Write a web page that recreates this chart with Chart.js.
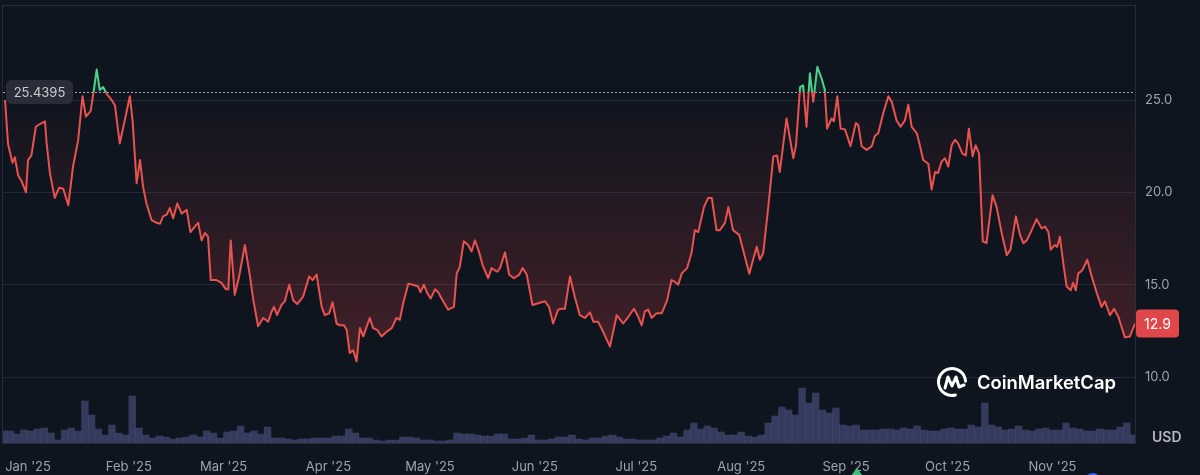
<!DOCTYPE html>
<html>
<head>
<meta charset="utf-8">
<script src="https://cdn.jsdelivr.net/npm/chart.js@4.4.1/dist/chart.umd.min.js"></script>
<style>
  html, body { margin: 0; padding: 0; background: #0f151f; }
  #wrap { position: relative; width: 1200px; height: 475px; }
</style>
</head>
<body>
<div id="wrap"><canvas id="chart" width="1200" height="475"></canvas></div>
<script>
// days counted from 1 Jan 2025
const priceDays = [
  -5.6, -4.7, -3.4, -2.7, -1.7, -0.7, 0.6, 1.2, 2.2, 3.5, 4.7, 6.2, 6.7, 7.7, 9.1, 10.4, 11.6, 13.1, 14.5, 16.0,
  17.3, 18.3, 19.7, 20.5, 21.5, 22.4, 23.4, 24.4, 25.9, 26.9, 28.3, 29.8, 31.3, 32.1, 33.3, 34.3, 35.2, 36.2, 37.7, 39.2,
  40.2, 41.1, 42.2, 43.1, 44.1, 45.3, 46.6, 48.1, 49.2, 50.5, 51.5, 52.5, 53.5, 54.4, 55.2, 56.9, 58.4, 59.7, 60.4, 61.1,
  62.3, 63.6, 65.3, 66.8, 67.8, 69.2, 70.7, 72.2, 73.2, 73.9, 74.8, 76.1, 77.1, 78.4, 79.6, 80.8, 82.5, 84.3, 85.3, 86.5,
  88.0, 88.9, 90.2, 91.2, 92.4, 93.4, 94.6, 95.4, 96.3, 97.3, 98.3, 99.3, 100.3, 102.2, 103.2, 104.4, 105.7, 107.2, 108.7, 110.1,
  111.1, 112.1, 113.6, 115.0, 116.5, 117.2, 118.2, 119.2, 120.2, 121.5, 122.4, 123.9, 125.4, 127.1, 127.9, 128.8, 130.0, 131.3, 132.3, 133.3,
  134.3, 135.6, 137.2, 138.2, 139.9, 140.7, 142.2, 143.4, 144.8, 146.4, 147.4, 148.6, 150.3, 152.0, 154.0, 155.2, 156.4, 157.9, 158.9, 159.9,
  161.4, 162.8, 164.3, 165.8, 167.3, 168.3, 169.7, 171.2, 173.2, 175.2, 177.1, 178.6, 180.3, 181.6, 182.6, 183.5, 184.5, 185.5, 187.0, 188.5,
  190.1, 191.4, 192.4, 193.4, 194.4, 196.0, 197.3, 198.3, 199.3, 201.0, 202.2, 203.3, 204.7, 205.7, 207.2, 208.2, 209.6, 211.4, 213.1, 214.4,
  215.5, 216.6, 217.5, 218.5, 220.0, 221.5, 222.6, 223.4, 225.4, 227.4, 228.2, 229.4, 230.3, 231.3, 232.3, 233.3, 234.5, 235.8, 236.7, 237.4,
  238.7, 239.4, 240.4, 241.4, 242.7, 244.3, 245.9, 246.6, 247.6, 249.1, 250.6, 251.5, 252.5, 254.0, 255.5, 256.5, 257.9, 259.1, 260.4, 261.4,
  262.4, 263.9, 264.8, 265.8, 267.3, 268.3, 269.3, 270.2, 271.2, 272.2, 273.2, 274.2, 275.2, 276.1, 277.4, 278.4, 279.3, 280.4, 281.3, 282.3,
  283.4, 284.5, 286.3, 287.5, 289.0, 290.5, 291.6, 293.2, 294.4, 295.4, 296.4, 297.6, 299.3, 300.8, 301.8, 302.8, 303.5, 304.7, 305.4, 306.2,
  307.2, 308.2, 309.4, 310.1, 310.9, 311.6, 312.9, 314.3, 315.6, 317.1, 318.5, 319.5, 321.0, 322.2, 323.5, 325.4, 326.9, 328.4,
];
const priceValues = [
  25.0, 22.6, 21.6, 21.9, 20.9, 20.6, 20.0, 21.75, 22.0, 23.55, 23.7, 23.85, 22.65, 21.0, 19.7, 20.25, 20.2, 19.3, 21.4, 22.8,
  25.2, 24.1, 24.4, 25.35, 26.65, 25.55, 25.7, 25.35, 25.0, 24.7, 22.65, 23.9, 25.2, 23.9, 20.5, 21.75, 20.3, 19.4, 18.5, 18.35,
  18.3, 18.7, 18.8, 19.15, 18.6, 19.4, 18.85, 19.05, 17.85, 18.15, 18.35, 17.4, 17.8, 17.6, 15.25, 15.25, 15.1, 14.75, 14.75, 17.4,
  14.45, 15.45, 17.15, 15.45, 14.15, 12.75, 13.2, 13.0, 13.55, 13.8, 13.35, 13.9, 14.1, 15.0, 14.15, 13.95, 14.35, 15.45, 15.25, 15.55,
  13.8, 13.35, 13.45, 14.05, 12.9, 12.8, 12.8, 12.55, 11.3, 11.45, 10.85, 12.65, 12.2, 13.2, 12.65, 12.55, 12.2, 12.45, 12.65, 13.2,
  13.1, 14.0, 15.05, 15.0, 14.9, 14.6, 15.0, 14.55, 14.25, 14.75, 14.6, 14.1, 13.65, 13.8, 15.6, 15.95, 17.35, 17.15, 16.8, 17.4,
  16.9, 16.05, 15.35, 15.9, 15.7, 15.9, 16.75, 15.55, 15.35, 15.55, 15.9, 15.55, 13.9, 14.0, 14.1, 13.8, 12.9, 13.65, 13.7, 13.7,
  15.45, 14.35, 13.35, 13.2, 13.5, 13.0, 13.0, 12.45, 11.65, 13.35, 12.9, 13.25, 13.7, 13.25, 12.8, 13.55, 13.65, 13.2, 13.45, 13.45,
  14.15, 15.25, 15.15, 15.0, 15.6, 15.9, 16.7, 17.95, 17.85, 19.2, 19.7, 19.7, 17.95, 17.95, 18.35, 19.2, 17.95, 17.7, 16.5, 15.6,
  16.35, 17.05, 16.35, 16.7, 19.2, 21.95, 22.0, 21.1, 24.0, 21.85, 22.55, 25.7, 25.8, 23.55, 26.45, 24.9, 26.8, 26.15, 25.55, 23.45,
  24.0, 23.85, 25.2, 23.45, 23.4, 22.5, 23.75, 23.65, 22.5, 22.3, 22.5, 23.05, 23.2, 24.3, 25.2, 24.9, 23.9, 23.55, 23.9, 24.75,
  23.55, 23.2, 22.55, 21.75, 21.55, 20.15, 21.1, 21.05, 21.65, 21.85, 21.4, 22.55, 22.85, 22.65, 22.1, 22.0, 23.45, 21.95, 22.55, 22.1,
  17.35, 17.25, 19.85, 19.2, 17.8, 16.6, 16.9, 18.7, 17.7, 17.25, 17.4, 17.85, 18.55, 18.05, 18.15, 17.85, 16.9, 17.15, 17.05, 17.6,
  16.15, 14.9, 14.7, 15.1, 14.7, 15.6, 15.8, 16.35, 15.45, 14.55, 13.8, 14.1, 13.35, 13.7, 13.25, 12.15, 12.2, 12.9,
];
// relative traded volume, one bar per two days
const volumeValues = [
  12, 12, 9, 13, 12, 14, 15, 10, 3, 13,
  15, 12, 42, 28, 14, 8, 18, 10, 8, 47,
  15, 8, 5, 7, 6, 4, 5, 6, 8, 6,
  12, 10, 5, 11, 12, 17, 10, 12, 9, 16,
  5, 5, 4, 3, 4, 4, 5, 5, 5, 7,
  7, 14, 10, 5, 5, 3, 2, 3, 3, 6,
  6, 5, 3, 3, 2, 2, 3, 10, 9, 9,
  8, 7, 7, 9, 9, 4, 4, 5, 8, 3,
  3, 4, 6, 6, 8, 4, 3, 5, 5, 7,
  8, 6, 4, 4, 3, 3, 3, 5, 7, 10,
  6, 13, 20, 14, 17, 15, 11, 8, 8, 11,
  7, 6, 8, 20, 27, 36, 33, 28, 55, 40,
  50, 33, 30, 35, 18, 17, 18, 13, 13, 13,
  14, 14, 13, 15, 14, 17, 13, 12, 12, 14,
  15, 14, 14, 18, 16, 40, 18, 16, 13, 14,
  17, 13, 12, 14, 15, 13, 13, 20, 15, 14,
  12, 12, 14, 13, 13, 16, 20, 8,
];
const VOLUME_FIRST_DAY = -6;
const VOLUME_STEP_DAYS = 2;
const volumeDays = volumeValues.map((_, i) => VOLUME_FIRST_DAY + i * VOLUME_STEP_DAYS);

const monthDays = [0, 31, 59, 90, 120, 151, 181, 212, 243, 273, 304];
const monthLabels = ["Jan '25", "Feb '25", "Mar '25", "Apr '25", "May '25", "Jun '25", "Jul '25", "Aug '25", "Sep '25", "Oct '25", "Nov '25"];
const priceTicks = [10, 15, 20, 25];
const eventDays = [246.2, 315.9];
const eventColors = ['#3fbf7f', '#3861fb'];

const BASE_PRICE = 25.4395;
const LAST_PRICE = 12.9;

const RED = '#e9524f';
const GREEN = '#4fcf8c';
const FONT = 'Inter, "Noto Sans", sans-serif';

function splitGradient(chart, topColor, bottomColor) {
  const { ctx, chartArea, scales } = chart;
  if (!chartArea || !scales.y) return bottomColor;
  const yb = scales.y.getPixelForValue(BASE_PRICE);
  const h = chartArea.bottom - chartArea.top;
  const t = Math.min(1, Math.max(0, (yb - chartArea.top) / h));
  const g = ctx.createLinearGradient(0, chartArea.top, 0, chartArea.bottom);
  g.addColorStop(0, topColor);
  g.addColorStop(t, topColor);
  g.addColorStop(t, bottomColor);
  g.addColorStop(1, bottomColor);
  return g;
}

function areaFill(context) {
  const chart = context.chart;
  const { ctx, chartArea, scales } = chart;
  if (!chartArea || !scales.y) return { target: { value: BASE_PRICE }, above: 'rgba(79,207,140,0.2)', below: 'rgba(233,82,79,0.12)' };
  const yb = scales.y.getPixelForValue(BASE_PRICE);
  const red = ctx.createLinearGradient(0, yb, 0, chartArea.bottom);
  red.addColorStop(0, 'rgba(233,70,72,0.0)');
  red.addColorStop(1, 'rgba(233,70,72,0.32)');
  const green = ctx.createLinearGradient(0, chartArea.top, 0, yb);
  green.addColorStop(0, 'rgba(79,207,140,0.35)');
  green.addColorStop(1, 'rgba(79,207,140,0.08)');
  return { target: { value: BASE_PRICE }, above: green, below: red };
}

function roundRect(ctx, x, y, w, h, r) {
  ctx.beginPath();
  ctx.moveTo(x + r, y);
  ctx.arcTo(x + w, y, x + w, y + h, r);
  ctx.arcTo(x + w, y + h, x, y + h, r);
  ctx.arcTo(x, y + h, x, y, r);
  ctx.arcTo(x, y, x + w, y, r);
  ctx.closePath();
}

const baselinePlugin = {
  id: 'baseline',
  beforeDatasetsDraw(chart) {
    const { ctx, chartArea, scales } = chart;
    const y = Math.round(scales.y.getPixelForValue(BASE_PRICE)) + 0.5;
    ctx.save();
    ctx.strokeStyle = 'rgba(215,220,228,0.75)';
    ctx.lineWidth = 1;
    ctx.setLineDash([2, 2]);
    ctx.beginPath();
    ctx.moveTo(chartArea.left, y);
    ctx.lineTo(chartArea.right, y);
    ctx.stroke();
    ctx.restore();
  },
};

const overlayPlugin = {
  id: 'overlay',
  afterDraw(chart) {
    const { ctx, chartArea, scales } = chart;
    ctx.save();

    // frame
    ctx.strokeStyle = '#262d39';
    ctx.lineWidth = 1;
    ctx.strokeRect(chartArea.left - 0.5, chartArea.top - 0.5, chartArea.right - chartArea.left + 1, chartArea.bottom - chartArea.top + 1);

    // base price label
    const yb = scales.y.getPixelForValue(BASE_PRICE);
    roundRect(ctx, chartArea.left + 3, yb - 12, 67, 24, 6);
    ctx.fillStyle = 'rgba(44,48,59,0.92)';
    ctx.fill();
    ctx.fillStyle = '#c9ccd3';
    ctx.font = '13px ' + FONT;
    ctx.textAlign = 'center';
    ctx.textBaseline = 'middle';
    ctx.fillText(BASE_PRICE.toFixed(4), chartArea.left + 36.5, yb + 1);

    // last price tag
    const yl = scales.y.getPixelForValue(LAST_PRICE);
    roundRect(ctx, chartArea.right + 1, yl - 14, 43, 28, 4);
    ctx.fillStyle = '#e0474a';
    ctx.fill();
    ctx.fillStyle = '#ffffff';
    ctx.font = '14px ' + FONT;
    ctx.fillText(LAST_PRICE.toFixed(1), chartArea.right + 22.5, yl + 1);

    // currency
    ctx.fillStyle = '#b4b9c3';
    ctx.font = '600 14px ' + FONT;
    ctx.textAlign = 'left';
    ctx.fillText('USD', chartArea.right + 17, chartArea.bottom - 5);

    // watermark
    const lx = 952, ly = 382;
    ctx.strokeStyle = '#ffffff';
    ctx.lineWidth = 3;
    ctx.lineCap = 'round';
    ctx.lineJoin = 'round';
    ctx.beginPath();
    ctx.arc(lx, ly, 13.5, 0.42 * Math.PI, 1.98 * Math.PI);
    ctx.stroke();
    ctx.beginPath();
    ctx.moveTo(lx - 7, ly + 6);
    ctx.lineTo(lx - 4, ly - 5);
    ctx.lineTo(lx, ly + 4);
    ctx.lineTo(lx + 4, ly - 5);
    ctx.lineTo(lx + 7, ly + 5);
    ctx.lineTo(lx + 12, ly + 3);
    ctx.stroke();
    const label = 'CoinMarketCap';
    let size = 20;
    ctx.font = '600 ' + size + 'px ' + FONT;
    size = size * 139 / ctx.measureText(label).width;
    ctx.font = '600 ' + size.toFixed(2) + 'px ' + FONT;
    ctx.fillStyle = '#ffffff';
    ctx.textBaseline = 'middle';
    ctx.fillText(label, 977, ly + 1);

    // event markers under the axis
    eventDays.forEach((d, i) => {
      const x = scales.x.getPixelForValue(d);
      ctx.fillStyle = eventColors[i];
      ctx.beginPath();
      if (i === 0) {
        ctx.moveTo(x, 468);
        ctx.lineTo(x + 6, 476);
        ctx.lineTo(x - 6, 476);
        ctx.closePath();
      } else {
        ctx.arc(x, 481, 8, 0, Math.PI * 2);
      }
      ctx.fill();
    });

    ctx.restore();
  },
};

new Chart(document.getElementById('chart'), {
  type: 'line',
  data: {
    datasets: [
      {
        type: 'line',
        label: 'Price',
        data: priceDays.map((d, i) => ({ x: d, y: priceValues[i] })),
        yAxisID: 'y',
        borderWidth: 2,
        borderColor: (c) => splitGradient(c.chart, GREEN, RED),
        borderJoinStyle: 'round',
        pointRadius: 0,
        tension: 0,
        fill: areaFill,
        order: 1,
      },
      {
        type: 'bar',
        label: 'Volume',
        data: volumeDays.map((d, i) => ({ x: d, y: volumeValues[i] })),
        yAxisID: 'vol',
        backgroundColor: 'rgba(76,82,130,0.62)',
        borderWidth: 0,
        barPercentage: 1,
        categoryPercentage: 1,
        order: 2,
      },
    ],
  },
  options: {
    responsive: false,
    animation: false,
    devicePixelRatio: 1,
    layout: { padding: { left: 3, top: 6, right: 0, bottom: 0 } },
    plugins: { legend: { display: false }, tooltip: { enabled: false } },
    scales: {
      x: {
        type: 'linear',
        min: -6.2,
        max: 328.4,
        offset: false,
        grid: { display: false },
        border: { display: false },
        afterBuildTicks(scale) {
          // the first label is nudged right so it stays inside the canvas, as in the source
          scale.ticks = monthDays.map((v, i) => ({ value: i === 0 ? v + 1.2 : v }));
        },
        afterFit(scale) {
          scale.height = 32;
          scale.paddingLeft = 0;
          scale.paddingRight = 0;
        },
        ticks: {
          autoSkip: false,
          maxRotation: 0,
          padding: 8,
          color: '#9ea3ad',
          font: { family: FONT, size: 13 },
          callback: (v, i) => monthLabels[i],
        },
      },
      y: {
        position: 'right',
        min: 6.43,
        max: 30.09,
        grid: { color: '#232834', drawTicks: false },
        border: { display: false },
        afterBuildTicks(scale) {
          scale.ticks = priceTicks.map((v) => ({ value: v }));
        },
        afterFit(scale) {
          scale.width = 65;
          scale.paddingTop = 0;
          scale.paddingBottom = 0;
        },
        ticks: {
          padding: 10,
          color: '#9ea3ad',
          font: { family: FONT, size: 13 },
          callback: (v) => Number(v).toFixed(1),
        },
      },
      vol: {
        display: false,
        min: 0,
        max: 437,
      },
    },
  },
  plugins: [baselinePlugin, overlayPlugin],
});
</script>
</body>
</html>
